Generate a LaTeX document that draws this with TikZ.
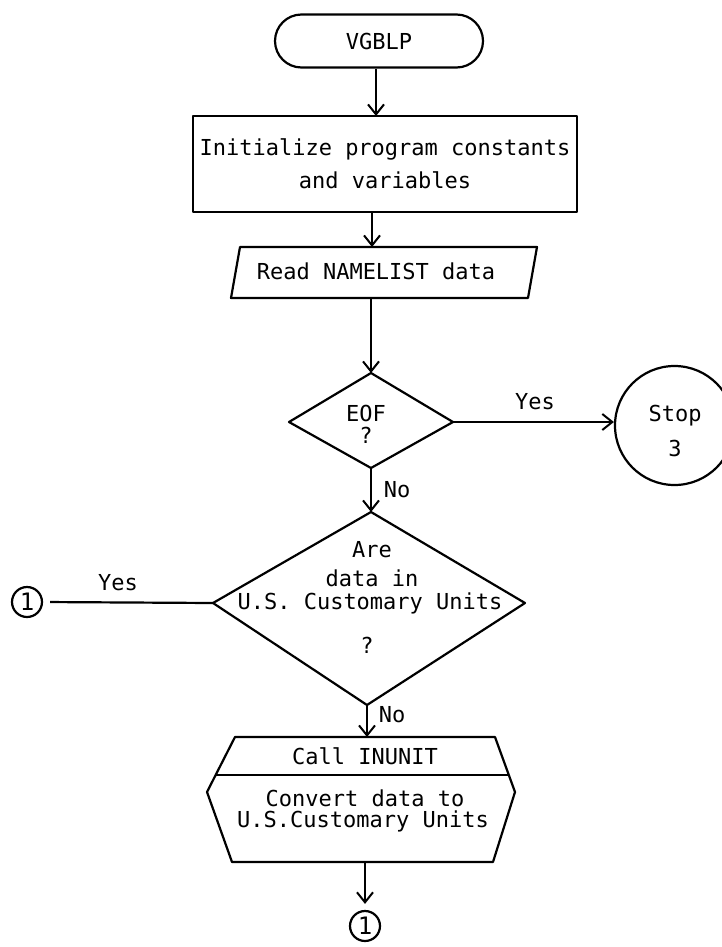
\documentclass[tikz,border=0pt]{standalone}
\usepackage{fontspec}
\newfontfamily\tw{DejaVu Sans Mono}
\usetikzlibrary{arrows.meta,shapes.misc}

\tikzset{
  txt/.style={font=\tw\fontsize{22}{28}\selectfont, inner sep=0pt, align=center},
  outline/.style={draw=black, line width=2.2pt, line join=round},
  arr/.style={line width=2.2pt, -{Straight Barb[length=10pt,width=16pt,line width=2pt]}},
  link/.style={line width=2.2pt},
  conn/.style={draw, circle, line width=2.2pt, minimum size=30pt, inner sep=0pt,
               font=\tw\fontsize{24}{24}\selectfont},
}

\begin{document}
\begin{tikzpicture}[x=1pt,y=-1pt]
\useasboundingbox (0,0) rectangle (722,947);

% start terminal
\node[outline, rounded rectangle, minimum width=208pt, minimum height=53pt,
      inner sep=0pt, txt] (start) at (379,41) {VGBLP};

% initialisation box
\node[outline, rectangle, minimum width=384pt, minimum height=96pt,
      txt, font=\tw\fontsize{22}{33}\selectfont] (init) at (385,164)
      {Initialize program constants\\and variables};

% input parallelogram
\coordinate (readN) at (372,247);
\coordinate (readS) at (371,298);
\draw[outline] (240,247) -- (537,247) -- (528,298) -- (231,298) -- cycle;
\node[txt] (read) at (376,271) {Read NAMELIST data};

% end-of-file test
\coordinate (eofN) at (371,373);
\coordinate (eofE) at (453,422);
\coordinate (eofS) at (371,468);
\coordinate (eofW) at (289,422);
\draw[outline] (eofN) -- (eofE) -- (eofS) -- (eofW) -- cycle;
\node[txt, font=\tw\fontsize{22}{22}\selectfont] (eof) at (366,424) {EOF\\?};

% stop circle
\node[outline, circle, minimum size=119pt, inner sep=0pt] (stop) at (674.5,425.5) {};
\node[txt, font=\tw\fontsize{22}{35}\selectfont] (stoptxt) at (675,431) {Stop\\3};

% units test
\coordinate (unN) at (371,512);
\coordinate (unE) at (525,603);
\coordinate (unS) at (367,705);
\coordinate (unW) at (213,603);
\draw[outline] (unN) -- (unE) -- (unS) -- (unW) -- cycle;
\node[txt] (q1) at (372,550) {Are};
\node[txt] (q2) at (372,578) {data in};
\node[txt] (q3) at (370,603) {U.S. Customary Units};
\node[txt] (q4) at (367,645) {?};

% connector on the yes branch
\node[conn] (c1) at (27,602) {1};

% subroutine call
\coordinate (callN) at (367,737);
\coordinate (callS) at (365,862);
\draw[outline] (235,737) -- (495,737) -- (515,792) -- (493,862)
               -- (232,862) -- (207,792) -- cycle;
\draw[link] (215.7,775) -- (508.8,775);
\node[txt] (call) at (365,756) {Call INUNIT};
\node[txt] (conv1) at (365,798) {Convert data to};
\node[txt] (conv2) at (363,821) {U.S.Customary Units};

% connector at the bottom
\node[conn] (c2) at (365,926) {1};

% flow lines
\draw[arr] (start.south -| 376,0) -- (376,116);
\draw[arr] (372,212) -- (readN);
\draw[arr] (readS) -- (eofN);
\draw[arr] (eofE) -- (eofE -| stop.west);
\node[txt] (yes1) at (535,402) {Yes};
\draw[arr] (eofS) -- (unN);
\node[txt] (no1) at (397,490) {No};
\draw[link, shorten >=7pt] (unW) -- (c1.east);
\node[txt] (yes2) at (118,583) {Yes};
\draw[arr] (unS) -- (callN);
\node[txt] (no2) at (392,715) {No};
\draw[arr, shorten >=6pt] (callS) -- (c2.north);
\end{tikzpicture}
\end{document}
